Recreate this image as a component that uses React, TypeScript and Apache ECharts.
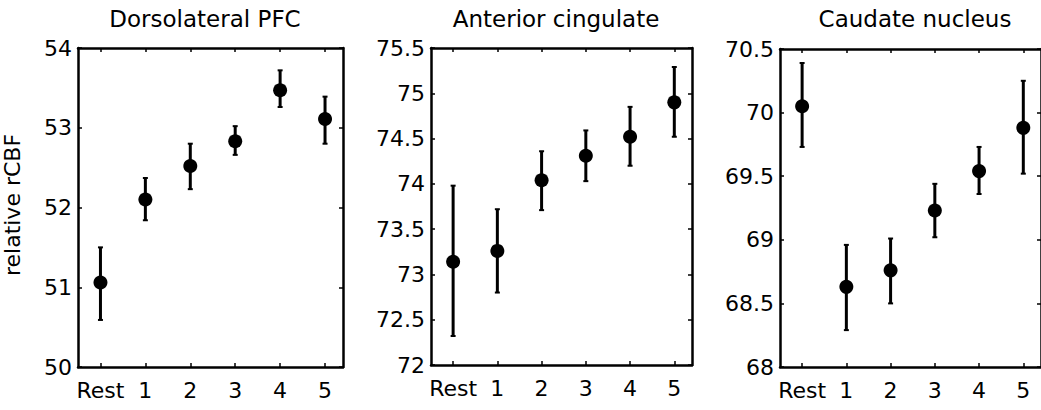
import React, { useEffect, useRef } from "react";
import * as echarts from "echarts";

const categories = ["Rest", "1", "2", "3", "4", "5"];
const titles = ["Dorsolateral PFC", "Anterior cingulate", "Caudate nucleus"];

const pfcMean = [51.06, 52.1, 52.52, 52.83, 53.47, 53.11];
const pfcLow = [50.59, 51.84, 52.23, 52.66, 53.26, 52.8];
const pfcHigh = [51.5, 52.37, 52.8, 53.02, 53.72, 53.39];

const acMean = [73.14, 73.26, 74.04, 74.31, 74.52, 74.9];
const acLow = [72.32, 72.8, 73.71, 74.03, 74.2, 74.52];
const acHigh = [73.98, 73.72, 74.36, 74.59, 74.85, 75.29];

const cnMean = [70.05, 68.63, 68.76, 69.23, 69.54, 69.88];
const cnLow = [69.73, 68.29, 68.5, 69.02, 69.36, 69.52];
const cnHigh = [70.39, 68.96, 69.01, 69.44, 69.73, 70.25];

const yMins = [50, 72, 68];
const yMaxs = [54, 75.5, 70.5];
const yIntervals = [1, 0.5, 0.5];

const FONT = "DejaVu Sans";

export default function App() {
  const ref = useRef<HTMLDivElement>(null);
  useEffect(() => {
    document.body.style.margin = "0";
    const chart = echarts.init(ref.current!, null, { renderer: "svg" });
    const panels = [
      { mean: pfcMean, low: pfcLow, high: pfcHigh },
      { mean: acMean, low: acLow, high: acHigh },
      { mean: cnMean, low: cnLow, high: cnHigh },
    ];
    const grids = [
      { left: 78, top: 48, width: 265, height: 319 },
      { left: 431, top: 48, width: 261, height: 317 },
      { left: 780, top: 49, width: 264, height: 318 },
    ];
    const titleX = [205, 556, 915];
    const tickVals = categories.map((_, i) => i + 1);
    const xAxes: any[] = [];
    const yAxes: any[] = [];
    const series: any[] = [];
    panels.forEach((p, i) => {
      const axisLine = { show: true, lineStyle: { color: "#000", width: 2.5 } };
      const tick = { show: true, inside: true, length: 4, lineStyle: { color: "#000", width: 1.5 } };
      xAxes.push({
        type: "value", gridIndex: i, position: "bottom", min: 0.5, max: 6.4,
        axisLine, splitLine: { show: false },
        axisTick: { ...tick, customValues: tickVals },
        axisLabel: {
          customValues: tickVals, color: "#000", fontFamily: FONT, fontSize: 22, margin: 12,
          formatter: (v: number) => categories[Math.round(v) - 1] ?? "",
        },
      });
      xAxes.push({
        type: "value", gridIndex: i, position: "top", min: 0.5, max: 6.4,
        axisLine, splitLine: { show: false },
        axisTick: { ...tick, customValues: tickVals },
        axisLabel: { show: false },
      });
      yAxes.push({
        type: "value", gridIndex: i, position: "left", min: yMins[i], max: yMaxs[i], interval: yIntervals[i],
        axisLine, splitLine: { show: false }, axisTick: tick,
        axisLabel: { color: "#000", fontFamily: FONT, fontSize: 22, margin: 6 },
      });
      yAxes.push({
        type: "value", gridIndex: i, position: "right", min: yMins[i], max: yMaxs[i], interval: yIntervals[i],
        axisLine, splitLine: { show: false }, axisTick: tick, axisLabel: { show: false },
      });
      series.push({
        type: "custom",
        xAxisIndex: 2 * i, yAxisIndex: 2 * i,
        data: p.mean.map((_, k) => [k + 1, p.low[k], p.high[k]]),
        encode: { x: 0, y: [1, 2] },
        renderItem: (params: any, api: any) => {
          const x = api.value(0);
          const a = api.coord([x, api.value(1)]);
          const b = api.coord([x, api.value(2)]);
          return {
            type: "group",
            children: [
              { type: "line", shape: { x1: a[0], y1: a[1], x2: b[0], y2: b[1] }, style: { stroke: "#000", lineWidth: 3 } },
              { type: "line", shape: { x1: a[0] - 2.5, y1: a[1], x2: a[0] + 2.5, y2: a[1] }, style: { stroke: "#000", lineWidth: 2 } },
              { type: "line", shape: { x1: b[0] - 2.5, y1: b[1], x2: b[0] + 2.5, y2: b[1] }, style: { stroke: "#000", lineWidth: 2 } },
            ],
          };
        },
        z: 2,
      });
      series.push({
        type: "scatter",
        xAxisIndex: 2 * i, yAxisIndex: 2 * i,
        data: p.mean.map((v, k) => [k + 1, v]),
        symbol: "circle", symbolSize: 14,
        itemStyle: { color: "#000", opacity: 1 },
        z: 3,
      });
    });
    const graphics: any[] = titles.map((t, i) => ({
      type: "text", x: titleX[i], y: 18.5,
      style: { text: t, fill: "#000", font: `23px "${FONT}"`, align: "center", verticalAlign: "middle" },
    }));
    graphics.push({
      type: "text", x: 12, y: 205, rotation: Math.PI / 2,
      style: { text: "relative rCBF", fill: "#000", font: `22px "${FONT}"`, align: "center", verticalAlign: "middle" },
    });
    chart.setOption({
      animation: false,
      backgroundColor: "#fff",
      grid: grids,
      xAxis: xAxes,
      yAxis: yAxes,
      series,
      graphic: graphics,
    });
    return () => chart.dispose();
  }, []);
  return <div ref={ref} style={{ width: 1041, height: 410, position: "fixed", left: 0, top: 0 }} />;
}
